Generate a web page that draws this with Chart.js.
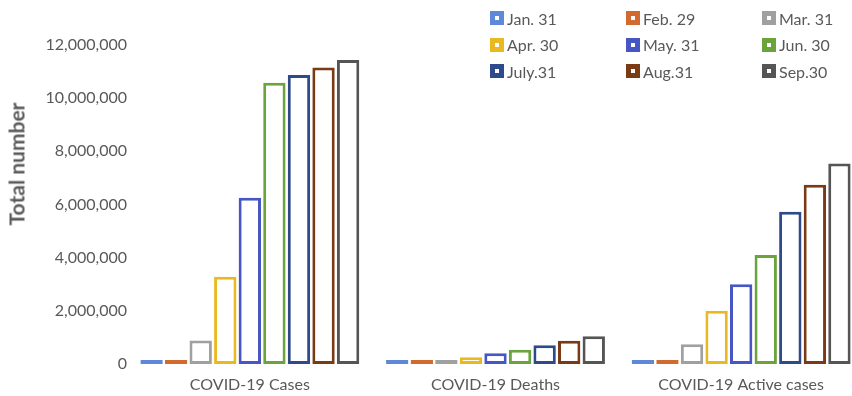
<!DOCTYPE html>
<html>
<head>
<meta charset="utf-8">
<script src="https://cdn.jsdelivr.net/npm/chart.js@4"></script>
<style>
    body { margin: 0; background: #fff; }
    #wrap { position: relative; width: 852px; height: 396px; overflow: hidden; }
    #grafico { position: absolute; left: 0; top: 0; }
    #titulo-y {
        position: absolute; left: 16px; top: 164px;
        transform: translate(-50%, -50%) rotate(-90deg);
        font: bold 21px Lato, sans-serif; color: #595959; white-space: nowrap;
    }
    #leyenda {
        position: absolute; left: 490px; top: 5px;
        display: grid; grid-template-columns: 136px 136px 100px; grid-auto-rows: 26.5px;
        font: 16px Lato, sans-serif; color: #595959;
    }
    #leyenda div { display: flex; align-items: center; white-space: nowrap; }
    #leyenda span.caja {
        width: 14px; height: 14px; box-sizing: border-box; border: 5px solid; background: #fff;
        margin-right: 3px; display: inline-block;
    }
</style>
</head>
<body>
<div id="wrap">
    <canvas id="grafico" width="866" height="396"></canvas>
    <div id="titulo-y">Total number</div>
    <div id="leyenda"></div>
</div>
<script>
// datos
const categorias = ['COVID-19 Cases', 'COVID-19 Deaths', 'COVID-19 Active cases'];
const fechas = ['Jan. 31', 'Feb. 29', 'Mar. 31', 'Apr. 30', 'May. 31', 'Jun. 30', 'July.31', 'Aug.31', 'Sep.30'];
const colores = ['#5F88D8', '#D2692E', '#A0A0A0', '#E8B920', '#4656C4', '#6AA43A', '#2E4A8A', '#7A3A14', '#555555'];

const casos = [10000, 86000, 880000, 3280000, 6250000, 10580000, 10870000, 11150000, 11440000];
const muertes = [200, 3000, 42000, 250000, 400000, 540000, 710000, 870000, 1040000];
const activos = [9000, 40000, 740000, 2000000, 3000000, 4100000, 5730000, 6740000, 7540000];

const etiquetasY = [0, 2000000, 4000000, 6000000, 8000000, 10000000, 12000000];

window.onload = GraficoBarras;

function GraficoBarras() {
    var datasets = [];
    for (var i = 0; i < fechas.length; i++) {
        datasets.push({
            label: fechas[i],
            data: [casos[i], muertes[i], activos[i]],
            borderColor: colores[i],
            backgroundColor: '#ffffff',
            borderWidth: 3,
            borderSkipped: false,
            minBarLength: 4
        });
    }

    // leyenda en html, como en excel (3 columnas)
    var leyenda = document.getElementById('leyenda');
    datasets.forEach(function (ds) {
        var item = document.createElement('div');
        item.innerHTML = '<span class="caja" style="border-color:' + ds.borderColor + '"></span>' + ds.label;
        leyenda.appendChild(item);
    });

    var ctx = document.getElementById('grafico').getContext('2d');
    new Chart(ctx, {
        type: 'bar',
        data: { labels: categorias, datasets: datasets },
        options: {
            responsive: false,
            animation: false,
            devicePixelRatio: 1,
            datasets: { bar: { categoryPercentage: 0.9, barPercentage: 0.91 } },
            layout: { padding: { top: 45, bottom: 1, left: 0, right: 2 } },
            plugins: { legend: { display: false }, tooltip: { enabled: false } },
            scales: {
                x: {
                    afterFit: function (scale) { scale.height = 31; },
                    grid: { display: false, drawTicks: false },
                    border: { display: false },
                    ticks: { color: '#595959', font: { family: 'Lato', size: 16 }, padding: 11 }
                },
                y: {
                    min: 0,
                    max: 12000000,
                    afterFit: function (scale) { scale.width = 127; },
                    afterBuildTicks: function (scale) {
                        scale.ticks = etiquetasY.map(function (v) { return { value: v }; });
                    },
                    grid: { display: false, drawTicks: false },
                    border: { display: false },
                    ticks: {
                        color: '#595959',
                        font: { family: 'Lato', size: 16 },
                        padding: 0,
                        callback: function (v) { return v.toLocaleString('en-US'); }
                    }
                }
            }
        }
    });
}
</script>
</body>
</html>
